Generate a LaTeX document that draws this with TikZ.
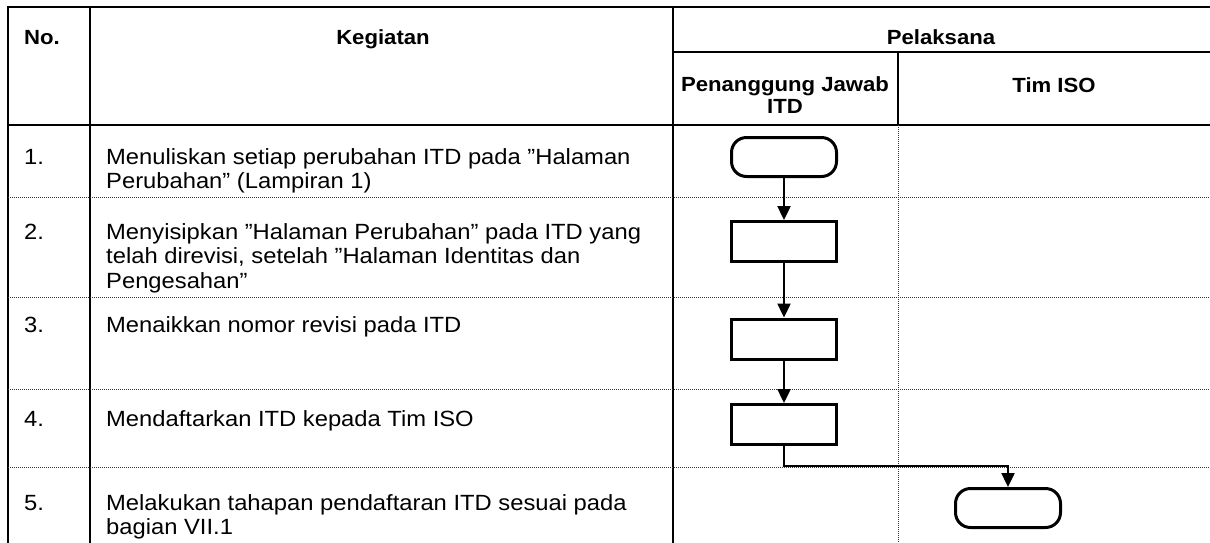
\documentclass[tikz,border=0pt]{standalone}
\usepackage{fontspec}
\setmainfont{Liberation Sans}[FakeStretch=1.08]
\usetikzlibrary{arrows.meta}

\tikzset{
  rule/.style={line width=2.2pt},
  rowsep/.style={line width=1pt,dash pattern=on 1pt off 1pt,black!80},
  term/.style={draw,line width=3pt,rounded corners=15pt,minimum width=105pt,minimum height=39pt,inner sep=0pt},
  proc/.style={draw,line width=3pt,minimum width=105pt,minimum height=40pt,inner sep=0pt},
  flow/.style={line width=2.4pt,-{Triangle[length=14pt,width=13pt]}},
  txt/.style={anchor=base west,inner sep=0pt,align=left,font=\fontsize{22}{24.5}\selectfont},
  head/.style={anchor=base,inner sep=0pt,align=center,font=\fontsize{20.5}{22}\selectfont\bfseries}
}

\begin{document}
\begin{tikzpicture}[x=1pt,y=-1pt]
    \useasboundingbox (0,0) rectangle (1210,542);
    % table lines
    \draw[rule] (1215,7) -- (8,7) -- (8,550);
    \draw[rule] (90,7) -- (90,550);
    \draw[rule] (673,7) -- (673,550);
    \draw[rule] (673,52) -- (1215,52);
    \draw[rule] (898,52) -- (898,125);
    \draw[rule] (8,125) -- (1215,125);
    \draw[rowsep] (898,125) -- (898,550);
    \foreach \y in {197,297,389,467}
      \draw[rowsep] (8,\y) -- (1215,\y);
    % header (base = last line)
    \node[head,anchor=base west] (hno) at (24,44) {No.};
    \node[head] (hkeg) at (383,44) {Kegiatan};
    \node[head] (hpel) at (941,44) {Pelaksana};
    \node[head] (hpj) at (785,113) {Penanggung Jawab\\ITD};
    \node[head] (htim) at (1054,92) {Tim ISO};
    % rows
    \foreach \i/\y in {1/164,2/239,3/332,4/426,5/510}
      \node[txt] (n\i) at (24,\y) {\i.};
    \node[txt] (k1) at (106,188.5) {Menuliskan setiap perubahan ITD pada ”Halaman\\Perubahan” (Lampiran 1)};
    \node[txt] (k2) at (106,288) {Menyisipkan ”Halaman Perubahan” pada ITD yang\\telah direvisi, setelah ”Halaman Identitas dan\\Pengesahan”};
    \node[txt] (k3) at (106,332) {Menaikkan nomor revisi pada ITD};
    \node[txt] (k4) at (106,426) {Mendaftarkan ITD kepada Tim ISO};
    \node[txt] (k5) at (106,534.5) {Melakukan tahapan pendaftaran ITD sesuai pada\\bagian VII.1};
    % flow
    \node[term] (s1) at (784,157) {};
    \node[proc] (s2) at (784,241.5) {};
    \node[proc] (s3) at (784,339) {};
    \node[proc] (s4) at (784,424.5) {};
    \node[term] (e5) at (1008,508) {};
    \draw[flow] (s1) -- (s2);
    \draw[flow] (s2) -- (s3);
    \draw[flow] (s3) -- (s4);
    \draw[flow] (s4.south) -- ++(0,20) -| (e5.north);
\end{tikzpicture}
\end{document}
